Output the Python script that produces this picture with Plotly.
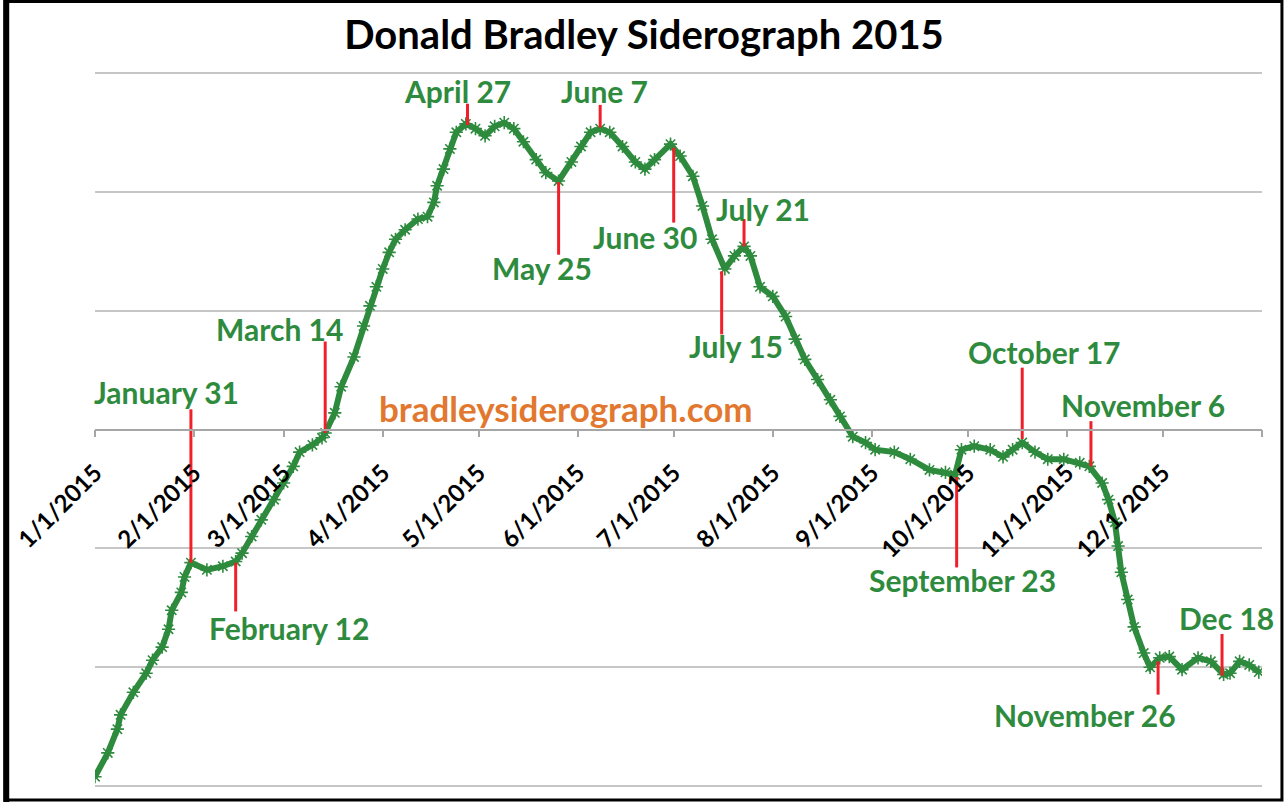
import plotly.graph_objects as go
import pandas as pd

# ---------------- data ----------------
BASE = "2015-01-01"

# day offset from 1 Jan 2015, siderograph value
days = [0, 4, 7, 8, 12, 16, 18, 21, 23, 24, 27, 28, 30, 35, 40, 44, 46, 49, 52, 56,
        59, 62, 64, 68, 71, 72, 75, 77, 81, 84, 86, 88, 90, 92, 94, 97, 101, 104, 106, 107,
        109, 111, 113, 116, 119, 122, 125, 128, 131, 134, 138, 141, 145, 149, 152, 155, 158, 161, 165, 169,
        172, 175, 180, 183, 187, 190, 193, 197, 200, 203, 205, 208, 212, 216, 219, 222, 226, 230, 233, 237,
        241, 244, 250, 255, 261, 266, 269, 271, 275, 280, 284, 287, 290, 294, 298, 303, 308, 311, 315, 317,
        319, 320, 321, 323, 325, 328, 330, 333, 336, 340, 345, 349, 353, 355, 358, 361, 364]
values = [-292, -272, -252, -240, -221, -205, -194, -183, -168, -152, -137, -124, -112, -118, -115, -111, -104, -90, -76, -59,
          -45, -31, -19, -13, -7, -3, 14, 36, 61, 87, 104, 120, 135, 149, 160, 168, 177, 179, 191, 205,
          219, 236, 250, 257, 253, 247, 255, 258, 253, 242, 227, 216, 209, 225, 238, 250, 253, 250, 238, 225,
          219, 227, 240, 230, 213, 188, 160, 135, 146, 154, 146, 120, 112, 95, 76, 59, 42, 25, 11, -6,
          -11, -17, -19, -25, -34, -36, -38, -17, -14, -17, -23, -17, -11, -19, -25, -25, -28, -31, -45, -59,
          -78, -98, -120, -143, -166, -188, -200, -192, -191, -202, -192, -195, -206, -205, -195, -198, -204]

# turning-point annotations: label, position (day offset), value where the marker meets the curve
turn_labels = ["January 31", "February 12", "March 14", "April 27", "May 25", "June 7", "June 30",
               "July 15", "July 21", "September 23", "October 17", "November 6", "November 26", "Dec 18"]
turn_days = [30, 44, 72, 116.5, 145, 158, 181, 196, 203, 269.5, 290, 311.5, 332.5, 352.5]
turn_values = [-112, -112, -3, 256, 208, 254, 237, 133, 154, -40, -8, -31, -195, -207]

tick_dates = ["2015-01-01", "2015-02-01", "2015-03-01", "2015-04-01", "2015-05-01", "2015-06-01", "2015-07-01",
              "2015-08-01", "2015-09-01", "2015-10-01", "2015-11-01", "2015-12-01", "2016-01-01"]
tick_text = ["1/1/2015", "2/1/2015", "3/1/2015", "4/1/2015", "5/1/2015", "6/1/2015", "7/1/2015",
             "8/1/2015", "9/1/2015", "10/1/2015", "11/1/2015", "12/1/2015", ""]

# ---------------- styling ----------------
# marker length (value units, + up / - down) and label offsets (px) for each turning point
marker_len = [129, -41, 77, 18, -61, 19, -63, -53, 23, -76, 60, 38, -28, 35]
label_shift = [(-24, 17), (53, -17), (-46, 13), (-10, 13), (-17, -13), (4, 14), (-29, -14),
               (14, -12), (19, 10), (6, -13), (22, 16), (52, 16), (-73, -20), (4, 16)]

GREEN = "#2e8b3e"
RED = "#f0202a"
ORANGE = "#e2782f"
FONT = "Lato"

W, H = 1288, 802
L, R, T, B = 92, 26, 71, 14
PW, PH = W - L - R, H - T - B


def px(xp):
    return (xp - L) / PW


def py(yp):
    return (H - B - yp) / PH


base = pd.Timestamp(BASE)
x_dates = [base + pd.Timedelta(days=d) for d in days]
t_dates = [base + pd.Timedelta(days=d) for d in turn_days]

fig = go.Figure()

fig.add_trace(go.Scatter(
    x=x_dates, y=values, mode="lines+markers",
    line=dict(color=GREEN, width=6),
    marker=dict(symbol="asterisk-open", size=11, color=GREEN, line=dict(color=GREEN, width=1.6)),
    hoverinfo="skip", showlegend=False,
))

rx, ry = [], []
for d, v, ln in zip(t_dates, turn_values, marker_len):
    rx += [d, d, None]
    ry += [v, v + ln, None]
fig.add_trace(go.Scatter(x=rx, y=ry, mode="lines", line=dict(color=RED, width=3),
                         hoverinfo="skip", showlegend=False))

for lab, d, v, ln, (dx, dy) in zip(turn_labels, t_dates, turn_values, marker_len, label_shift):
    fig.add_annotation(x=d, y=v + ln, text=lab, showarrow=False, xshift=dx, yshift=dy,
                       xanchor="center", yanchor="middle",
                       font=dict(family=FONT, size=30, color=GREEN, weight="bold"))

fig.add_annotation(xref="paper", yref="paper", x=px(564), y=py(408), text="bradleysiderograph.com",
                   showarrow=False, xanchor="center", yanchor="middle",
                   font=dict(family=FONT, size=35, color=ORANGE, weight="bold"))

# outer frame
fig.add_shape(type="rect", xref="paper", yref="paper",
              x0=px(2), x1=px(1282), y0=py(800), y1=py(1.5),
              line=dict(color="black", width=3), layer="above")
fig.add_shape(type="line", xref="paper", yref="paper",
              x0=px(3), x1=px(3), y0=py(802), y1=py(0),
              line=dict(color="black", width=6), layer="above")

fig.update_layout(
    width=W, height=H,
    margin=dict(l=L, r=R, t=T, b=B),
    paper_bgcolor="white", plot_bgcolor="white",
    title=dict(text="Donald Bradley Siderograph 2015", x=0.5, xanchor="center",
               xref="container", yref="container", y=1 - 35 / H, yanchor="middle",
               font=dict(family=FONT, size=40, color="black", weight="bold")),
    xaxis=dict(type="date", range=["2015-01-01", "2016-01-01"],
               tickvals=tick_dates, ticktext=tick_text, tickangle=-45,
               tickfont=dict(family=FONT, size=24, color="black", weight="bold"),
               ticks="outside", ticklen=7, tickcolor="#a6a6a6", tickwidth=1.5,
               showline=True, linecolor="#a6a6a6", linewidth=1.5,
               anchor="free", position=0.5, showgrid=False, zeroline=False,
               ticklabelstandoff=12),
    yaxis=dict(range=[-301.5, 301.5], dtick=100, tick0=0, showgrid=True,
               gridcolor="#c6c6c6", gridwidth=1.5, showticklabels=False,
               zeroline=False, showline=False, ticks=""),
)

fig.write_html("out.html", config={"displayModeBar": False},
               post_script="document.body.style.margin='0px';")
